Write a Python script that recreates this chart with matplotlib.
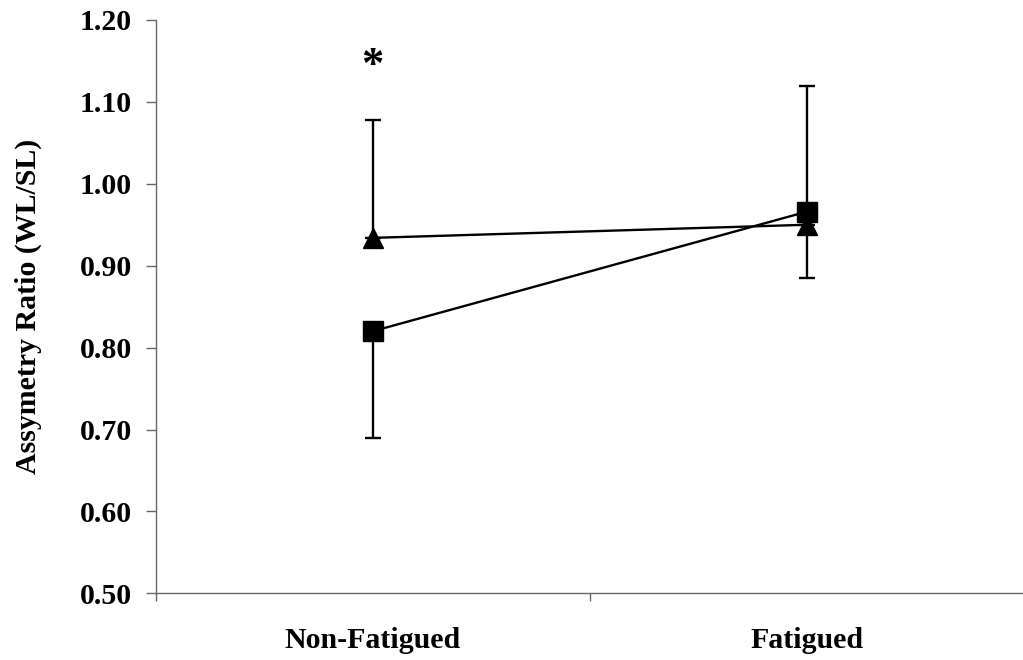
import matplotlib
matplotlib.use("Agg")
import matplotlib.pyplot as plt
import numpy as np

categories = ["Non-Fatigued", "Fatigued"]
triangle_vals = [0.934, 0.950]
triangle_err_lo = [0.0, 0.065]
triangle_err_hi = [0.144, 0.0]
square_vals = [0.820, 0.966]
square_err_lo = [0.130, 0.0]
square_err_hi = [0.0, 0.153]
y_ticks = [0.50, 0.60, 0.70, 0.80, 0.90, 1.00, 1.10, 1.20]

plt.rcParams['font.family'] = ['Liberation Serif', 'DejaVu Serif']
plt.rcParams['font.weight'] = 'bold'

fig = plt.figure(figsize=(10.23, 6.6), dpi=100)
ax_w = 1024 - 155.7
ax = fig.add_axes([155.7/1023, (660-593.3)/660, ax_w/1023, (593.3-20)/660])

x = np.arange(len(categories)) + 0.5
axis_col = '#666666'

ax.errorbar(x, triangle_vals, yerr=[triangle_err_lo, triangle_err_hi], fmt='none',
            ecolor='black', elinewidth=1.7, capsize=5.8, capthick=1.7, zorder=2)
ax.errorbar(x, square_vals, yerr=[square_err_lo, square_err_hi], fmt='none',
            ecolor='black', elinewidth=1.7, capsize=5.8, capthick=1.7, zorder=2)
ax.plot(x, triangle_vals, color='black', lw=1.7, marker='^', markersize=15, zorder=3)
ax.plot(x, square_vals, color='black', lw=1.7, marker='s', markersize=14.5, zorder=4)

ax.text(x[0], 1.144, "*", ha='center', va='center', fontsize=32, fontweight='bold')

ax.set_xlim(0, 2)
ax.set_ylim(0.5, 1.2)
ax.set_yticks(y_ticks)
ax.set_yticklabels([f"{v:.2f}" for v in y_ticks])
ax.set_xticks([0, 1, 2])
ax.set_xticklabels([])
ax.set_xticks(x, minor=True)
ax.set_xticklabels(categories, minor=True)
ax.tick_params(axis='x', which='minor', length=0, pad=24, labelsize=21.5)
ax.tick_params(axis='x', which='major', length=6, direction='out', color=axis_col, width=1)
ax.tick_params(axis='y', length=7, direction='out', color=axis_col, width=1, labelsize=21.5, pad=10)

for s in ['top', 'right']:
    ax.spines[s].set_visible(False)
for s in ['left', 'bottom']:
    ax.spines[s].set_color(axis_col)
    ax.spines[s].set_linewidth(1)

ax.set_ylabel("Assymetry Ratio (WL/SL)", fontsize=21.5, fontweight='bold')
ax.yaxis.label.set_va('center')
ax.yaxis.set_label_coords((28 - 155.7) / ax_w, 0.5)

fig.savefig("out.png", dpi=100)
